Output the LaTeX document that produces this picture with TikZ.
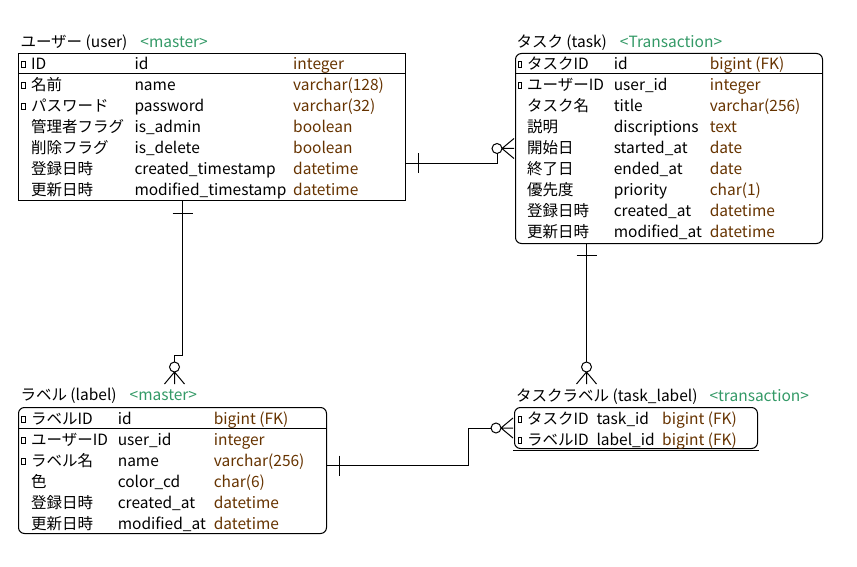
\documentclass[tikz,border=0pt]{standalone}
\usepackage{fontspec}
\setmainfont{Noto Sans CJK JP}
\usetikzlibrary{positioning}
\definecolor{TypeBrown}{HTML}{663300}
\definecolor{StereoGreen}{HTML}{339966}

\begin{document}
\begin{tikzpicture}[x=1pt, y=-1pt, line width=1pt, every node/.style={font=\fontsize{15.5}{18}\selectfont, inner sep=0pt}]
  \tikzstyle{entity}=[draw, anchor=north west, line width=1pt]
  \tikzstyle{title}=[anchor=base west]
  \tikzstyle{stereo}=[text=StereoGreen]
  \tikzstyle{col}=[anchor=base west]
  \tikzstyle{dtype}=[anchor=base west, text=TypeBrown]
  \tikzstyle{keymark}=[draw, line width=0.8pt, minimum width=3.5pt, minimum height=6pt]
  \tikzset{
    zeromany/.pic={\draw (0,0) circle (5); \draw (5,0) -- (17,-10) (5,0) -- (17,0) (5,0) -- (17,10);},
    onlyone/.pic={\draw (0,-10) -- (0,10);}
  }
  \useasboundingbox (0,0) rectangle (857,567);

  % ユーザー
  \node[title] (user-t) at (20,47.5) {ユーザー (user)};
  \node[stereo, base right=12pt of user-t] (user-s) {<master>};
  \node[entity, minimum width=387pt, minimum height=147pt] (user) at (18,53) {};
  \draw ([yshift=-21pt]user.north west) -- ([yshift=-21pt]user.north east);
  \foreach \k/\a/\b/\c in {0/ID/id/integer, 1/名前/name/varchar(128), 2/パスワード/password/varchar(32), 3/管理者フラグ/is\_admin/boolean, 4/削除フラグ/is\_delete/boolean, 5/登録日時/created\_timestamp/datetime, 6/更新日時/modified\_timestamp/datetime}{
    \node[col] (user-\k-l) at (30.7,69.5+21*\k) {\a};
    \node[col] (user-\k-p) at (134,69.5+21*\k) {\b};
    \node[dtype] (user-\k-d) at (292.7,69.5+21*\k) {\c};
  }
  \foreach \k in {0,1,2} \node[keymark] (user-\k-m) at (23.3,64.7+21*\k) {};

  % タスク
  \node[title] (task-t) at (516,48) {タスク (task)};
  \node[stereo, base right=12pt of task-t] (task-s) {<Transaction>};
  \node[entity, rounded corners=6pt, minimum width=307pt, minimum height=190pt] (task) at (515,53) {};
  \draw ([yshift=-21pt]task.north west) -- ([yshift=-21pt]task.north east);
  \foreach \k/\a/\b/\c in {0/タスクID/id/bigint (FK), 1/ユーザーID/user\_id/integer, 2/タスク名/title/varchar(256), 3/説明/discriptions/text, 4/開始日/started\_at/date, 5/終了日/ended\_at/date, 6/優先度/priority/char(1), 7/登録日時/created\_at/datetime, 8/更新日時/modified\_at/datetime}{
    \node[col] (task-\k-l) at (526.7,69.5+21*\k) {\a};
    \node[col] (task-\k-p) at (613.3,69.5+21*\k) {\b};
    \node[dtype] (task-\k-d) at (709.3,69.5+21*\k) {\c};
  }
  \foreach \k in {0,1} \node[keymark] (task-\k-m) at (519.9,64.7+21*\k) {};

  % ラベル
  \node[title] (label-t) at (20,400.5) {ラベル (label)};
  \node[stereo, base right=12pt of label-t] (label-s) {<master>};
  \node[entity, rounded corners=6pt, minimum width=308pt, minimum height=126pt] (label) at (18,407) {};
  \draw ([yshift=-21pt]label.north west) -- ([yshift=-21pt]label.north east);
  \foreach \k/\a/\b/\c in {0/ラベルID/id/bigint (FK), 1/ユーザーID/user\_id/integer, 2/ラベル名/name/varchar(256), 3/色/color\_cd/char(6), 4/登録日時/created\_at/datetime, 5/更新日時/modified\_at/datetime}{
    \node[col] (label-\k-l) at (30.7,424+21*\k) {\a};
    \node[col] (label-\k-p) at (117.3,424+21*\k) {\b};
    \node[dtype] (label-\k-d) at (213.3,424+21*\k) {\c};
  }
  \foreach \k in {0,1,2} \node[keymark] (label-\k-m) at (23.3,419.2+21*\k) {};

  % タスクラベル
  \node[title] (tl-t) at (515.7,401.5) {タスクラベル (task\_label)};
  \node[stereo, base right=11pt of tl-t] (tl-s) {<transaction>};
  \node[entity, rounded corners=6pt, minimum width=243pt, minimum height=41pt] (tl) at (514,407) {};
  \draw ([xshift=-1pt,yshift=-1.5pt]tl.south west) -- ([xshift=1pt,yshift=-1.5pt]tl.south east);
  \foreach \k/\a/\b/\c in {0/タスクID/task\_id/bigint (FK), 1/ラベルID/label\_id/bigint (FK)}{
    \node[col] (tl-\k-l) at (526.7,424+21*\k) {\a};
    \node[col] (tl-\k-p) at (596,424+21*\k) {\b};
    \node[dtype] (tl-\k-d) at (661.7,424+21*\k) {\c};
  }
  \foreach \k in {0,1} \node[keymark] (tl-\k-m) at (519.9,419.5+21*\k) {};

  % リレーション
  \draw ([yshift=-36.5pt]user.east) -| ([xshift=-18pt,yshift=-5pt]task.west);
  \pic at ([xshift=12pt,yshift=-36.5pt]user.east) {onlyone};
  \pic at ([xshift=-18pt]task.west) {zeromany};

  \draw ([xshift=-29.5pt]user.south) -- ++(0,154) -| ([xshift=2pt,yshift=45pt]label.north);
  \pic[rotate=90] at ([xshift=-29.5pt,yshift=-12pt]user.south) {onlyone};
  \pic[rotate=-90] at ([xshift=2pt,yshift=40pt]label.north) {zeromany};

  \draw ([xshift=-82.5pt]task.south) -- ([xshift=-49.5pt,yshift=45pt]tl.north);
  \pic[rotate=90] at ([xshift=-82.5pt,yshift=-11pt]task.south) {onlyone};
  \pic[rotate=-90] at ([xshift=-49.5pt,yshift=40pt]tl.north) {zeromany};

  \draw ([yshift=5pt]label.east) -- ++(141,0) |- ([xshift=-23pt]tl.west);
  \pic at ([xshift=12pt,yshift=5pt]label.east) {onlyone};
  \pic at ([xshift=-18pt]tl.west) {zeromany};
\end{tikzpicture}
\end{document}
